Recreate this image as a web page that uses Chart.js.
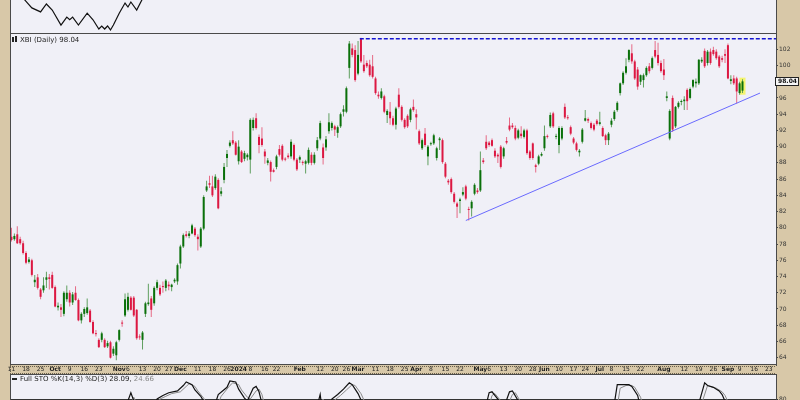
<!DOCTYPE html>
<html>
<head>
<meta charset="utf-8">
<script src="https://cdn.jsdelivr.net/npm/chart.js@4.4.1/dist/chart.umd.min.js"></script>
<style>
  html, body { margin: 0; padding: 0; background: #d8c8a8; }
  #wrap { position: relative; width: 800px; height: 400px; overflow: hidden; }
  .pane { position: absolute; left: 0; width: 800px; }
  canvas { display: block; }
</style>
</head>
<body>
<div id="wrap">
  <div class="pane" style="top:0;height:33px"><canvas id="top" width="800" height="33"></canvas></div>
  <div class="pane" style="top:33px;height:342px"><canvas id="main" width="800" height="342"></canvas></div>
  <div class="pane" style="top:374px;height:26px"><canvas id="sto" width="800" height="26"></canvas></div>
</div>
<script>
// market holidays inside the window (used to build the trading-day axis)
const holidays = ['2023-11-23', '2023-12-25', '2024-01-01', '2024-01-15', '2024-02-19',
  '2024-03-29', '2024-05-27', '2024-06-19', '2024-07-04', '2024-09-02'];

const xTicks = [
  ['2023-09-11', '11'], ['2023-09-18', '18'], ['2023-09-25', '25'], ['2023-10-02', 'Oct'],
  ['2023-10-09', '9'], ['2023-10-16', '16'], ['2023-10-23', '23'], ['2023-11-01', 'Nov'],
  ['2023-11-06', '6'], ['2023-11-13', '13'], ['2023-11-20', '20'], ['2023-11-27', '27'],
  ['2023-12-01', 'Dec'], ['2023-12-11', '11'], ['2023-12-18', '18'], ['2023-12-26', '26'],
  ['2024-01-02', '2024'], ['2024-01-08', '8'], ['2024-01-16', '16'], ['2024-01-22', '22'],
  ['2024-02-01', 'Feb'], ['2024-02-12', '12'], ['2024-02-20', '20'], ['2024-02-26', '26'],
  ['2024-03-01', 'Mar'], ['2024-03-11', '11'], ['2024-03-18', '18'], ['2024-03-25', '25'],
  ['2024-04-01', 'Apr'], ['2024-04-08', '8'], ['2024-04-15', '15'], ['2024-04-22', '22'],
  ['2024-05-01', 'May'], ['2024-05-06', '6'], ['2024-05-13', '13'], ['2024-05-20', '20'],
  ['2024-05-28', '28'], ['2024-06-03', 'Jun'], ['2024-06-10', '10'], ['2024-06-17', '17'],
  ['2024-06-24', '24'], ['2024-07-01', 'Jul'], ['2024-07-08', '8'], ['2024-07-15', '15'],
  ['2024-07-22', '22'], ['2024-08-01', 'Aug'], ['2024-08-12', '12'], ['2024-08-19', '19'],
  ['2024-08-26', '26'], ['2024-09-03', 'Sep'], ['2024-09-09', '9'], ['2024-09-16', '16'],
  ['2024-09-23', '23']
];

const yTicks = [64, 66, 68, 70, 72, 74, 76, 78, 80, 82, 84, 86, 88, 90, 92, 94, 96, 98, 100, 102];

// XBI daily candles, first one on 2023-09-11
const open = [
  78.9, 78.6, 79.2, 78.6, 78.1, 76.9, 75.8, 76.0, 73.3, 73.9,
  72.4, 72.3, 73.6, 73.9, 74.2, 72.7, 70.2, 70.2, 69.4, 71.2,
  72.0, 70.8, 72.0, 71.1, 68.6, 69.4, 69.5, 69.8, 68.4, 67.0,
  66.2, 66.2, 66.2, 65.4, 65.9, 64.5, 64.3, 66.2, 68.3, 69.2,
  69.9, 71.4, 71.4, 69.9, 66.6, 66.2, 69.4, 70.6, 71.3, 70.7,
  72.6, 72.6, 72.8, 72.6, 73.0, 72.7, 73.4, 73.4, 75.6, 77.7,
  79.2, 79.0, 79.3, 79.9, 78.9, 77.7, 79.9, 84.6, 85.5, 85.1,
  84.9, 85.9, 84.2, 85.9, 88.6, 90.1, 90.8, 90.5, 88.2, 89.4,
  88.5, 88.7, 88.4, 92.3, 93.5, 91.2, 91.0, 89.4, 88.0, 88.1,
  87.1, 87.5, 89.7, 90.1, 88.5, 88.9, 88.8, 90.2, 88.4, 88.4,
  88.1, 87.9, 88.0, 89.0, 88.0, 89.8, 91.0, 89.9, 89.9, 91.9,
  92.3, 92.5, 91.7, 92.5, 94.3, 94.3, 99.7, 102.1, 101.9, 99.0,
  103.3, 100.1, 100.3, 100.1, 99.9, 98.4, 96.4, 96.0, 96.2, 93.9,
  94.3, 93.5, 92.7, 96.4, 94.9, 93.3, 93.8, 93.3, 94.9, 94.0,
  91.9, 89.8, 91.6, 88.8, 90.3, 90.4, 88.6, 90.8, 90.8, 87.9,
  85.8, 86.0, 84.2, 83.0, 83.3, 84.1, 85.1, 82.3, 82.4, 84.2,
  84.6, 84.6, 88.3, 90.6, 90.5, 90.8, 89.5, 89.0, 90.0, 88.8,
  90.7, 92.6, 92.6, 92.3, 91.1, 91.6, 91.2, 92.0, 89.4, 90.4,
  87.7, 87.9, 88.9, 89.8, 91.3, 92.5, 94.1, 91.2, 90.2, 91.0,
  94.9, 93.6, 92.4, 91.0, 90.4, 89.3, 90.6, 93.2, 93.4, 92.9,
  92.7, 93.2, 92.8, 92.3, 91.4, 90.8, 92.7, 93.4, 94.5, 96.6,
  97.8, 99.1, 100.7, 101.5, 100.5, 99.5, 98.0, 98.2, 98.8, 99.9,
  99.7, 101.9, 101.3, 100.3, 99.5, 96.0, 91.0, 96.0, 92.5, 94.9,
  95.5, 95.6, 97.0, 96.0, 97.4, 97.8, 97.8, 100.5, 101.8, 100.3,
  101.7, 101.9, 101.7, 101.1, 100.9, 101.4, 102.5, 98.1, 98.4, 98.4,
  96.6, 96.9
];
const high = [
  80.0, 79.3, 80.2, 78.9, 78.4, 77.1, 76.4, 76.2, 74.2, 74.3,
  72.6, 73.9, 74.6, 74.3, 74.6, 72.9, 70.8, 70.6, 72.2, 72.9,
  72.3, 72.1, 72.8, 71.3, 69.6, 70.2, 71.3, 70.0, 68.6, 67.4,
  66.4, 67.2, 66.4, 66.1, 66.1, 65.4, 66.1, 67.5, 68.6, 71.9,
  72.0, 71.6, 71.6, 70.0, 66.9, 67.3, 70.9, 73.1, 71.6, 72.8,
  73.6, 73.0, 73.4, 73.7, 73.4, 73.1, 73.8, 75.6, 77.9, 79.3,
  79.6, 79.6, 80.5, 80.1, 79.2, 80.1, 84.0, 85.8, 86.4, 86.4,
  86.6, 86.1, 85.0, 88.0, 89.6, 90.8, 91.9, 90.7, 90.8, 89.6,
  89.5, 89.2, 93.5, 93.6, 94.1, 91.5, 92.4, 89.7, 88.6, 88.3,
  87.3, 89.0, 90.2, 90.3, 88.7, 89.2, 90.9, 90.4, 88.6, 88.9,
  88.3, 88.4, 89.9, 89.3, 89.3, 91.2, 93.2, 90.4, 91.3, 94.1,
  93.1, 92.7, 92.6, 94.2, 95.1, 97.4, 103.0, 102.7, 102.5, 103.0,
  103.4, 101.3, 100.6, 100.7, 101.3, 98.6, 96.8, 97.2, 96.4, 94.6,
  95.5, 93.8, 94.9, 97.2, 95.1, 93.5, 94.0, 94.8, 95.8, 94.6,
  92.1, 91.0, 92.3, 90.2, 90.6, 91.6, 90.0, 91.2, 91.0, 88.1,
  86.0, 86.2, 84.4, 83.2, 83.7, 85.0, 85.3, 82.6, 83.4, 85.5,
  84.9, 89.4, 88.6, 91.4, 90.7, 91.0, 89.8, 89.2, 90.2, 90.0,
  91.2, 93.6, 92.9, 92.6, 92.2, 92.5, 92.2, 92.2, 89.6, 90.5,
  87.9, 89.0, 89.3, 92.6, 91.5, 94.2, 94.3, 91.6, 92.5, 92.5,
  95.3, 93.9, 92.6, 91.2, 90.6, 89.7, 92.3, 94.5, 93.6, 93.1,
  92.9, 93.4, 94.3, 92.5, 91.6, 91.8, 93.5, 94.5, 95.6, 97.9,
  99.3, 100.9, 102.0, 102.6, 100.7, 99.8, 98.9, 99.0, 99.9, 100.3,
  101.1, 103.0, 102.8, 100.6, 100.8, 96.8, 94.6, 96.3, 95.0, 95.6,
  95.8, 96.2, 97.2, 97.3, 98.3, 98.4, 100.8, 101.0, 102.1, 101.9,
  102.1, 102.3, 102.0, 101.3, 101.2, 102.0, 102.7, 98.8, 98.8, 98.6,
  98.0, 98.3
];
const low = [
  78.3, 78.4, 78.0, 77.9, 76.7, 75.5, 75.6, 74.0, 72.7, 72.4,
  71.2, 72.0, 72.6, 72.4, 72.5, 70.2, 69.8, 69.0, 69.1, 70.9,
  70.3, 70.5, 71.0, 68.5, 68.2, 69.0, 69.3, 68.3, 66.9, 66.6,
  65.2, 65.9, 65.2, 65.2, 63.9, 64.2, 63.7, 66.0, 67.8, 69.0,
  69.7, 69.8, 69.0, 66.2, 66.2, 65.0, 69.0, 70.4, 69.0, 70.4,
  72.3, 71.6, 72.0, 72.2, 72.3, 72.2, 73.2, 73.0, 75.0, 77.5,
  78.8, 78.7, 79.2, 78.9, 77.2, 77.5, 79.7, 84.4, 84.9, 83.8,
  84.7, 82.3, 83.9, 85.5, 87.5, 89.9, 90.2, 88.9, 87.8, 88.0,
  88.2, 88.3, 86.7, 92.0, 92.1, 89.2, 90.0, 87.9, 87.7, 85.7,
  86.8, 87.2, 88.8, 88.2, 88.2, 88.5, 88.5, 88.2, 87.0, 88.0,
  87.7, 86.7, 87.8, 87.7, 87.8, 89.5, 90.8, 87.8, 89.5, 91.6,
  92.0, 91.3, 91.1, 92.3, 93.7, 94.1, 98.4, 101.0, 98.0, 98.8,
  100.3, 99.1, 99.7, 98.6, 98.4, 96.4, 95.9, 95.8, 94.1, 92.9,
  92.7, 92.5, 92.1, 94.7, 93.1, 92.2, 92.3, 93.0, 94.3, 92.1,
  90.2, 89.6, 90.0, 87.7, 90.1, 90.2, 88.3, 89.6, 87.9, 86.1,
  85.3, 84.2, 83.0, 81.2, 81.8, 83.9, 83.4, 80.9, 81.4, 84.0,
  84.2, 84.4, 87.9, 89.6, 90.0, 90.0, 88.6, 88.0, 87.3, 88.5,
  90.3, 91.9, 92.2, 90.8, 90.9, 91.0, 91.0, 89.0, 88.4, 88.4,
  86.8, 87.7, 88.8, 89.5, 91.0, 92.3, 92.3, 90.9, 89.2, 90.8,
  93.4, 93.3, 91.4, 90.3, 89.4, 88.8, 90.4, 93.1, 92.9, 92.1,
  91.9, 92.6, 92.6, 91.2, 90.2, 90.2, 92.4, 93.2, 94.3, 96.3,
  97.6, 98.9, 100.4, 100.2, 98.2, 97.0, 97.6, 97.3, 98.6, 99.0,
  99.5, 100.9, 100.0, 99.1, 98.2, 95.6, 90.8, 91.8, 92.3, 94.7,
  95.1, 94.5, 94.5, 95.8, 97.2, 97.3, 97.6, 100.3, 99.7, 100.0,
  100.1, 101.2, 100.7, 99.7, 100.4, 100.3, 98.3, 97.7, 97.6, 95.3,
  96.4, 96.6
];
const close = [
  78.5, 79.0, 78.1, 78.1, 76.9, 75.7, 76.1, 74.2, 73.6, 72.6,
  71.5, 72.9, 73.9, 73.7, 72.6, 70.3, 70.4, 69.9, 72.0, 72.0,
  70.8, 71.8, 71.1, 68.6, 69.4, 70.0, 70.2, 68.4, 67.0, 66.9,
  65.3, 67.0, 65.3, 65.8, 64.0, 65.1, 65.9, 67.4, 68.2, 71.2,
  71.5, 69.9, 69.2, 66.4, 66.5, 67.1, 70.7, 70.8, 69.9, 72.6,
  73.3, 71.8, 72.7, 73.5, 72.8, 73.0, 73.6, 75.4, 77.7, 79.1,
  79.0, 79.3, 80.3, 79.1, 78.6, 79.9, 83.8, 85.1, 85.3, 84.0,
  86.3, 82.4, 84.5, 87.5, 89.1, 90.5, 90.4, 89.0, 90.0, 88.1,
  89.2, 89.0, 93.3, 93.3, 92.3, 90.2, 90.2, 88.8, 88.3, 86.9,
  86.9, 88.8, 89.0, 88.4, 88.4, 88.7, 90.6, 88.4, 87.2, 88.7,
  88.0, 88.2, 89.6, 88.0, 89.0, 90.8, 92.9, 88.6, 90.9, 93.0,
  92.9, 92.1, 92.4, 94.0, 94.6, 97.2, 102.7, 101.3, 98.2, 101.3,
  100.5, 99.3, 99.9, 98.8, 98.6, 96.6, 96.2, 96.8, 94.3, 94.4,
  93.5, 92.7, 94.7, 94.9, 93.3, 92.4, 92.5, 94.6, 94.5, 93.6,
  90.4, 90.8, 90.2, 90.0, 90.4, 91.4, 89.8, 91.0, 88.1, 86.3,
  85.6, 84.4, 83.2, 82.6, 83.5, 84.4, 83.6, 82.2, 83.2, 85.3,
  84.4, 87.1, 88.1, 89.8, 90.2, 90.1, 88.8, 88.8, 87.5, 89.8,
  90.5, 92.1, 92.4, 91.0, 92.0, 91.3, 92.0, 89.2, 88.6, 88.6,
  87.5, 88.8, 89.1, 91.3, 91.2, 93.9, 92.5, 91.3, 92.3, 92.3,
  93.6, 93.5, 91.6, 90.5, 89.6, 89.5, 92.1, 93.5, 93.2, 92.3,
  92.1, 92.8, 93.0, 91.3, 90.8, 91.6, 93.2, 94.3, 95.4, 97.8,
  99.1, 99.9, 101.9, 100.5, 98.4, 97.4, 98.8, 98.8, 99.7, 99.3,
  100.9, 101.1, 100.3, 99.3, 98.8, 96.2, 94.4, 92.1, 94.9, 95.4,
  95.6, 95.8, 95.6, 97.1, 98.2, 98.0, 100.7, 100.7, 99.9, 101.7,
  100.3, 101.4, 100.9, 99.9, 100.7, 101.2, 98.4, 98.3, 97.8, 96.8,
  97.8, 98.04
];

// drawn lines: [day index, price]
const trendLine = [[156, 80.9], [257, 96.6]];
const resistance = [[119.6, 103.3], [262.5, 103.3]];

// upper indicator panel, only its lower part is in view: [day index, value]
const upperLine = [[0, 56], [3, 49], [5, 44], [7, 39], [10, 36], [12, 42], [14, 37.4], [17, 26],
  [19, 32], [20, 30], [21, 32], [23, 26], [26, 35], [28, 30], [30, 23], [31, 25.3], [32, 23],
  [33, 25.3], [34, 22.3], [35, 26], [37, 35], [39, 42.7], [40, 39.7], [41, 43.5], [43, 37.4],
  [45, 46], [47, 55], [60, 70], [120, 66], [180, 60], [251, 58]];

// Full STO, only values above ~79 are in view: [day index, value]
const stoK = [[0, 30], [38, 60], [41, 87], [44, 60], [48, 60], [50, 80], [52, 84], [54, 87],
  [57, 89], [59, 95], [60, 99], [62, 96], [63, 90], [65, 83], [67, 72], [70, 75], [71, 85],
  [74, 93], [75, 100], [77, 99], [78, 91], [80, 81], [81, 78], [83, 92], [84, 94], [85, 88],
  [86, 75], [88, 60], [104, 60], [106, 85], [107, 60], [109, 60], [110, 80], [112, 85],
  [114, 91], [116, 98], [117, 96], [119, 86], [121, 72], [162, 60], [164, 87], [165, 88],
  [167, 80], [169, 70], [171, 88], [172, 89], [174, 78], [206, 60], [207, 75], [208, 96],
  [210, 96], [212, 96], [213, 94], [215, 84], [216, 70], [235, 60], [236, 75], [238, 98],
  [239, 95], [241, 93], [243, 89], [244, 85], [246, 70], [251, 28.09]];
const stoD = [[0, 30], [39, 60], [42, 82], [45, 60], [49, 60], [51, 80], [53, 83], [55, 86],
  [58, 88], [60, 94], [61, 97], [63, 94], [64, 89], [66, 81], [68, 70], [71, 75], [72, 83],
  [75, 95], [76, 98], [78, 96], [79, 90], [81, 82], [82, 80], [84, 89], [85, 91], [86, 85],
  [87, 72], [89, 60], [105, 60], [107, 80], [108, 60], [110, 60], [111, 79], [113, 84],
  [115, 90], [117, 96], [118, 95], [120, 86], [122, 72], [163, 60], [165, 84], [166, 86],
  [168, 78], [170, 70], [172, 85], [173, 87], [175, 76], [207, 60], [208, 72], [209, 92],
  [211, 95], [213, 95], [214, 93], [216, 82], [217, 70], [236, 60], [237, 75], [239, 95],
  [240, 94], [242, 92], [244, 88], [245, 84], [247, 70], [251, 24.66]];

const FONT = '"DejaVu Sans", sans-serif';
const PLOT_BG = '#f0f0f7';
const FRAME = '#4a4a4a';
const UP = '#0a700a', DOWN = '#dc1842';
const UP_WICK = '#5f9f5f', DOWN_WICK = '#e66a86';

function tradingDays(from, to) {
  const out = [];
  const d = new Date(from + 'T12:00:00Z');
  const end = new Date(to + 'T12:00:00Z');
  while (d <= end) {
    const s = d.toISOString().slice(0, 10);
    const dow = d.getUTCDay();
    if (dow !== 0 && dow !== 6 && !holidays.includes(s)) out.push(s);
    d.setUTCDate(d.getUTCDate() + 1);
  }
  return out;
}

const days = tradingDays('2023-09-11', '2024-09-25');
const tickText = new Map(xTicks.map(t => [days.indexOf(t[0]), t[1]]));
const isBold = s => !!s && (isNaN(Number(s)) || s.length === 4);
const last = close.length - 1;
const isUp = i => close[i] >= open[i];
const pts = arr => arr.map(p => ({ x: p[0], y: p[1] }));

const xRange = { type: 'linear', min: -0.5, max: days.length - 0.5, offset: false };
const noPad = s => { s.paddingTop = s.paddingBottom = s.paddingLeft = s.paddingRight = 0; };

const panel = {
  id: 'panel',
  beforeDraw(chart, args, o) {
    const { ctx, chartArea: a } = chart;
    ctx.save();
    ctx.fillStyle = PLOT_BG;
    ctx.fillRect(a.left, a.top, a.right - a.left, a.bottom - a.top);
    if (o.axisRow) {
      // dotted frame of the date row
      ctx.strokeStyle = '#6a604c';
      ctx.setLineDash([1, 1]);
      ctx.beginPath();
      ctx.moveTo(a.left, a.bottom + 1.5); ctx.lineTo(a.right, a.bottom + 1.5);
      ctx.moveTo(a.left, chart.height - 1.5); ctx.lineTo(a.right, chart.height - 1.5);
      ctx.moveTo(a.left + 0.5, a.bottom); ctx.lineTo(a.left + 0.5, chart.height);
      ctx.stroke();
    }
    ctx.restore();
  },
  afterDraw(chart, args, o) {
    const { ctx, chartArea: a } = chart;
    const openTop = o.openTop || 0, openBottom = o.openBottom || 0;
    ctx.save();
    ctx.strokeStyle = FRAME;
    ctx.lineWidth = 1;
    ctx.strokeRect(a.left + 0.5, a.top + 0.5 - openTop,
      a.right - a.left, a.bottom - a.top - 1 + openTop + openBottom);
    if (o.title) {
      ctx.font = '7px ' + FONT;
      ctx.textBaseline = 'alphabetic';
      let x = a.left + 10;
      const y = a.top + o.titleY;
      ctx.fillStyle = '#222';
      if (o.icon === 'candle') {
        ctx.fillRect(a.left + 2, a.top + o.titleY - 5, 2, 5);
        ctx.fillRect(a.left + 5, a.top + o.titleY - 6, 2, 6);
      } else {
        ctx.fillRect(a.left + 2, a.top + o.titleY - 3, 5, 2);
      }
      o.title.forEach(([txt, col]) => {
        ctx.fillStyle = col;
        ctx.fillText(txt, x, y);
        x += ctx.measureText(txt).width;
      });
    }
    if (o.priceTag) {
      const ys = chart.scales.y;
      const py = Math.round(ys.getPixelForValue(close[last]));
      const txt = close[last].toFixed(2);
      ctx.font = 'bold 6px ' + FONT;
      const w = ctx.measureText(txt).width + 4;
      ctx.fillStyle = '#f6f6f6';
      ctx.fillRect(a.right - 1, py - 4, w, 8);
      ctx.strokeStyle = '#222';
      ctx.strokeRect(a.right - 0.5, py - 3.5, w, 8);
      ctx.fillStyle = '#111';
      ctx.textBaseline = 'middle';
      ctx.fillText(txt, a.right + 2, py + 0.5);
    }
    ctx.restore();
  }
};

const base = {
  responsive: false,
  animation: false,
  devicePixelRatio: 1,
  plugins: { legend: { display: false }, tooltip: { enabled: false } }
};

// upper indicator strip
new Chart(document.getElementById('top'), {
  type: 'line',
  data: { datasets: [{ data: pts(upperLine), borderColor: '#111', borderWidth: 1.2, pointRadius: 0 }] },
  options: {
    ...base,
    layout: { padding: { left: 10, right: 24, top: 0, bottom: 0 }, autoPadding: false },
    plugins: { ...base.plugins, panel: { openTop: 5, openBottom: 3 } },
    scales: {
      x: { ...xRange, display: false },
      y: { type: 'linear', display: false, min: 20, max: 45 }
    }
  },
  plugins: [panel]
});

// price panel
new Chart(document.getElementById('main'), {
  type: 'bar',
  data: {
    datasets: [
      { type: 'line', data: pts(resistance), borderColor: '#1414d2', borderWidth: 1.5,
        borderDash: [4, 2], pointRadius: 0, order: 1 },
      { type: 'line', data: pts(trendLine), borderColor: '#6a6aff', borderWidth: 1,
        pointRadius: 0, order: 2 },
      { data: open.map((o, i) => ({ x: i, y: [o, close[i]] })),
        backgroundColor: c => isUp(c.dataIndex) ? UP : DOWN,
        grouped: false, barThickness: 2, maxBarThickness: 2, minBarLength: 1,
        inflateAmount: 0, borderWidth: 0, order: 3 },
      { data: low.map((l, i) => ({ x: i, y: [l, high[i]] })),
        backgroundColor: c => isUp(c.dataIndex) ? UP_WICK : DOWN_WICK,
        grouped: false, barThickness: 1, maxBarThickness: 1,
        inflateAmount: 0, borderWidth: 0, order: 4 },
      { data: [{ x: last, y: [low[last] - 0.2, high[last] + 0.2] }],
        backgroundColor: '#f4f46e', grouped: true, barThickness: 6,
        inflateAmount: 0, borderWidth: 0, order: 5 }
    ]
  },
  options: {
    ...base,
    layout: { padding: { left: 10, right: 0, top: 0, bottom: 0 }, autoPadding: false },
    plugins: {
      ...base.plugins,
      panel: { axisRow: true, priceTag: true, titleY: 9, icon: 'candle',
        title: [['XBI (Daily) ' + close[last].toFixed(2), '#222']] }
    },
    scales: {
      x: {
        ...xRange, position: 'bottom',
        grid: { display: false, drawTicks: false, offset: false },
        border: { display: false },
        afterBuildTicks: s => { s.ticks = [...tickText.keys()].map(v => ({ value: v })); },
        afterFit: s => { s.height = 10; noPad(s); },
        ticks: {
          autoSkip: false, maxRotation: 0, minRotation: 0, padding: 1, color: '#1e1e1e',
          font: c => ({ family: FONT, size: 6,
            weight: isBold(c.tick ? tickText.get(c.tick.value) : '') ? 'bold' : 'normal' }),
          callback: v => tickText.get(v)
        }
      },
      y: {
        type: 'linear', position: 'right', min: 63.1, max: 104,
        grid: { drawOnChartArea: false, drawTicks: true, tickLength: 2, color: FRAME },
        border: { display: true, color: FRAME },
        afterBuildTicks: s => { s.ticks = yTicks.map(v => ({ value: v })); },
        afterFit: s => { s.width = 24; noPad(s); },
        ticks: { padding: 1, color: '#333', font: { family: FONT, size: 6 }, callback: v => String(v) }
      }
    }
  },
  plugins: [panel]
});

// stochastics strip
new Chart(document.getElementById('sto'), {
  type: 'line',
  data: {
    datasets: [
      { data: pts(stoK), borderColor: '#111', borderWidth: 1.2, pointRadius: 0 },
      { data: pts(stoD), borderColor: '#8a8a8a', borderWidth: 1, pointRadius: 0 }
    ]
  },
  options: {
    ...base,
    layout: { padding: { left: 10, right: 0, top: 0, bottom: 0 }, autoPadding: false },
    plugins: {
      ...base.plugins,
      panel: { openBottom: 6, titleY: 7, icon: 'dash',
        title: [['Full STO %K(14,3) %D(3) ', '#222'], ['28.09,', '#222'], [' 24.66', '#888']] }
    },
    scales: {
      x: { ...xRange, display: false },
      y: {
        type: 'linear', position: 'right', min: 78.9, max: 107.8,
        grid: { drawOnChartArea: true, drawTicks: true, tickLength: 2, color: '#333' },
        border: { display: true, color: FRAME },
        afterBuildTicks: s => { s.ticks = [{ value: 80 }]; },
        afterFit: s => { s.width = 24; noPad(s); },
        ticks: { padding: 1, color: '#333', font: { family: FONT, size: 6 }, callback: v => String(v) }
      }
    }
  },
  plugins: [panel]
});
</script>
</body>
</html>
